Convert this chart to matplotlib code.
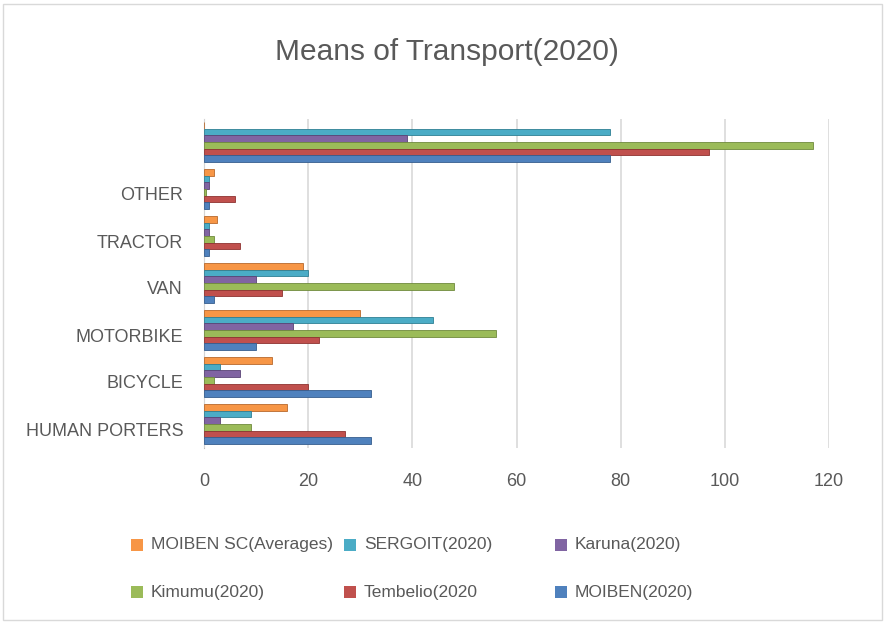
import matplotlib
matplotlib.use("Agg")
import matplotlib.pyplot as plt
import matplotlib.transforms as mtransforms
from matplotlib.patches import Rectangle
import numpy as np

plt.rcParams['font.family'] = ['Liberation Sans Narrow', 'Liberation Sans', 'DejaVu Sans']

categories = ["HUMAN PORTERS", "BICYCLE", "MOTORBIKE", "VAN", "TRACTOR", "OTHER", ""]
series_names = ["MOIBEN SC(Averages)", "SERGOIT(2020)", "Karuna(2020)",
                "Kimumu(2020)", "Tembelio(2020", "MOIBEN(2020)"]
colors = ["#F79646", "#4BACC6", "#8064A2", "#9BBB59", "#C0504D", "#4F81BD"]
edges = ["#B8692C", "#2E8094", "#5A4476", "#6F8A3C", "#8E3331", "#365D8E"]

moiben_sc = [16, 13, 30, 19, 2.5, 2, 0]
sergoit = [9, 3, 44, 20, 1, 1, 78]
karuna = [3, 7, 17, 10, 1, 1, 39]
kimumu = [9, 2, 56, 48, 2, 0.3, 117]
tembelio = [27, 20, 22, 15, 7, 6, 97]
moiben = [32, 32, 10, 2, 1, 1, 78]
values = [moiben_sc, sergoit, karuna, kimumu, tembelio, moiben]

x_ticks = [0, 20, 40, 60, 80, 100, 120]

W, H = 886, 623
fig = plt.figure(figsize=(W/100, H/100), dpi=100)
fig.patch.set_facecolor("white")
fig.patches.append(Rectangle((3/W, 3/H), (W-7)/W, (H-7)/H, transform=fig.transFigure,
                             fill=False, edgecolor="#D9D9D9", linewidth=1.0))

top_px, bot_px = 118.5, 447.5
ax = fig.add_axes([204/W, 1-bot_px/H, (829-204)/W, (bot_px-top_px)/H])
y = np.arange(len(categories))
h = 0.139
offsets = [2.5, 1.5, 0.5, -0.5, -1.5, -2.5]
for vals, c, ec, off in zip(values, colors, edges, offsets):
    ax.barh(y + off*h, vals, height=h, color=c, edgecolor=ec, linewidth=0.6, zorder=3)

ax.set_xlim(0, 120)
ax.set_ylim(-0.5, len(categories)-0.5)
ax.set_xticks(x_ticks)
ax.set_xticklabels([str(t) for t in x_ticks])
ax.set_yticks(y)
ax.set_yticklabels(categories)
ax.tick_params(axis='both', length=0, labelsize=13, colors="#595959")
ax.tick_params(axis='x', pad=18)
ax.tick_params(axis='y', pad=15)
shift = mtransforms.ScaledTranslation(0, -5/100, fig.dpi_scale_trans)
for lab in ax.get_yticklabels():
    lab.set_transform(lab.get_transform() + shift)
ax.grid(axis='x', color="#D9D9D9", linewidth=1.2, zorder=0)
for s in ["top", "right", "bottom"]:
    ax.spines[s].set_visible(False)
ax.spines["left"].set_color("#BFBFBF")
ax.spines["left"].set_zorder(1)

fig.text(447/W, 1-52/H, "Means of Transport(2020)", ha="center", va="center",
         fontsize=21.5, color="#595959")

# legend
col_x = [137, 350, 561]
row_y = [545, 592]
for i, (name, c) in enumerate(zip(series_names, colors)):
    r, cidx = divmod(i, 3)
    x0, y0 = col_x[cidx], row_y[r]
    fig.patches.append(Rectangle(((x0-6)/W, 1-(y0+6)/H), 12/W, 12/H,
                                 transform=fig.transFigure, facecolor=c, edgecolor="none"))
    fig.text((x0+14)/W, 1-y0/H, name, ha="left", va="center", fontsize=12.5, color="#595959")

fig.savefig("out.png", dpi=100)
